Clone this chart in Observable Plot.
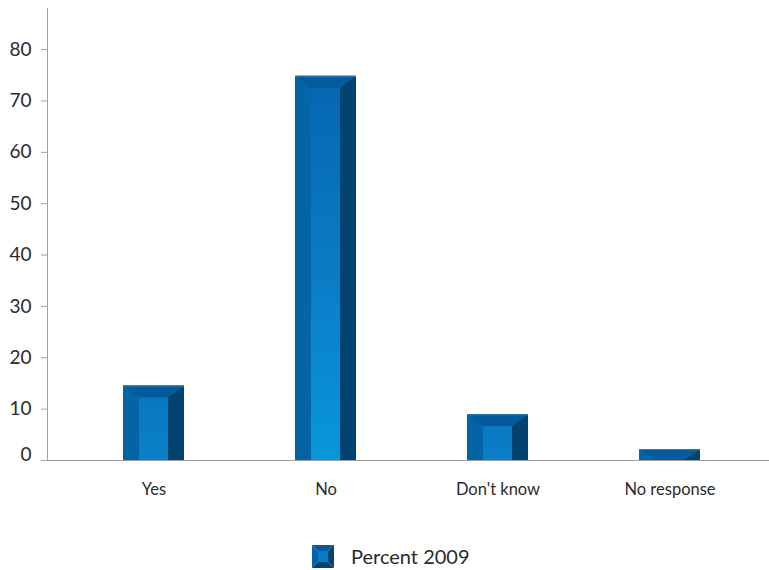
<!DOCTYPE html>
<html><head><meta charset="utf-8">
<script src="https://cdn.jsdelivr.net/npm/d3@7"></script>
<script src="https://cdn.jsdelivr.net/npm/@observablehq/plot@0.6"></script>
<style>
body{margin:0;background:#fff;font-family:Lato,sans-serif;}
#wrap{width:769px;position:relative;}
#legend{position:relative;height:40px;}
#legend svg{position:absolute;left:312px;top:15px;}
#legend span{position:absolute;left:351px;top:15px;line-height:23px;font-size:20px;color:#2b2b2b;font-family:Lato,sans-serif;}
</style></head><body>
<div id="wrap"><div id="chart"></div><div id="legend"></div></div>
<script>
const categories = ["Yes", "No", "Don't know", "No response"];
const percent2009 = [14.5, 74.8, 8.9, 2.1];
const yTicks = [0, 10, 20, 30, 40, 50, 60, 70, 80];
const seriesName = "Percent 2009";

const data = categories.map((c, i) => ({category: c, value: percent2009[i]}));
const col = {left: "#0564a6", top: "#045b9b", right: "#03436f", f0: "#0667b2", f1: "#0a7cc6", f2: "#0897da", text: "#2b2b2b", axis: "#a0a0a0"};
const BX = 16, BY = 12;

const chart = Plot.plot({
  width: 769, height: 530,
  marginLeft: 47, marginRight: 0, marginTop: 8, marginBottom: 70,
  style: {fontFamily: "Lato, sans-serif", color: col.text, background: "#fff", overflow: "visible"},
  x: {domain: categories, range: [67.3, 756.3], paddingInner: 0.645, paddingOuter: 0.3225, label: null},
  y: {domain: [0, 88], label: null},
  marks: [
    Plot.barY(data, {x: "category", y: "value", fill: col.left}),
    Plot.frame({anchor: "left", stroke: col.axis}),
    Plot.ruleY([0], {stroke: col.axis, strokeWidth: 1.2}),
    Plot.axisY({ticks: yTicks, tickSize: 6, tickPadding: 10, fontSize: 19, stroke: col.axis, fill: col.text,
      tickFormat: d => d === 0 ? "" : d, label: null}),
    Plot.text([yTicks[0]], {y: d => d, frameAnchor: "left", dx: -16, dy: -6, textAnchor: "end", fontSize: 19, fill: col.text}),
    Plot.axisX({tickSize: 0, tickPadding: 23, fontSize: 16.5, fill: col.text, label: null})
  ]
});
document.getElementById("chart").appendChild(chart);

// bevel faces from Plot's scales
const svg = d3.select(chart);
const sx = chart.scale("x"), sy = chart.scale("y");
const bw = sx.bandwidth;
const defs = svg.insert("defs", ":first-child");
const barNode = svg.select('g[aria-label="bar"]').node();
const g = d3.create("svg:g").attr("aria-label", "bevel");
barNode.after(g.node());
const y0 = sy.apply(0);
const Hmax = y0 - sy.apply(d3.max(percent2009));
data.forEach((d, i) => {
  const x1 = sx.apply(d.category), x2 = x1 + bw;
  const yt = sy.apply(d.value);
  const h = y0 - yt, dd = Math.min(BY, h);
  const t = h / Hmax;
  const grad = defs.append("linearGradient").attr("id", "front" + i).attr("x1", 0).attr("y1", 0).attr("x2", 0).attr("y2", 1);
  grad.append("stop").attr("offset", "0%").attr("stop-color", d3.interpolateRgb(col.f1, col.f0)(t));
  grad.append("stop").attr("offset", "50%").attr("stop-color", col.f1);
  grad.append("stop").attr("offset", "100%").attr("stop-color", d3.interpolateRgb(col.f1, col.f2)(t));
  const poly = (pts, fill) => g.append("polygon").attr("points", pts.map(p => p.join(",")).join(" ")).attr("fill", fill);
  poly([[x1, yt], [x1 + BX, yt + dd], [x1 + BX, y0], [x1, y0]], col.left);
  poly([[x2, yt], [x2, y0], [x2 - BX, y0], [x2 - BX, yt + dd]], col.right);
  poly([[x1, yt], [x2, yt], [x2 - BX, yt + dd], [x1 + BX, yt + dd]], col.top);
  if (h - dd > 0.5) g.append("rect").attr("x", x1 + BX).attr("y", yt + dd).attr("width", bw - 2 * BX).attr("height", h - dd).attr("fill", `url(#front${i})`);
  g.append("line").attr("x1", x1).attr("x2", x2).attr("y1", yt + 0.5).attr("y2", yt + 0.5).attr("stroke", "#2a80c4").attr("stroke-width", 1);
});

// legend
const leg = d3.select("#legend");
const ic = leg.append("svg").attr("width", 22).attr("height", 23);
const s = 6, W = 22, H = 23;
const p = (pts, fill) => ic.append("polygon").attr("points", pts.map(q => q.join(",")).join(" ")).attr("fill", fill);
p([[0, 0], [W, 0], [W - s, s], [s, s]], col.top);
p([[0, 0], [s, s], [s, H - s], [0, H]], col.left);
p([[W, 0], [W, H], [W - s, H - s], [W - s, s]], col.right);
p([[0, H], [W, H], [W - s, H - s], [s, H - s]], col.right);
ic.append("rect").attr("x", s).attr("y", s).attr("width", W - 2 * s).attr("height", H - 2 * s).attr("fill", col.f1);
leg.append("span").text(seriesName);
</script>
</body></html>
